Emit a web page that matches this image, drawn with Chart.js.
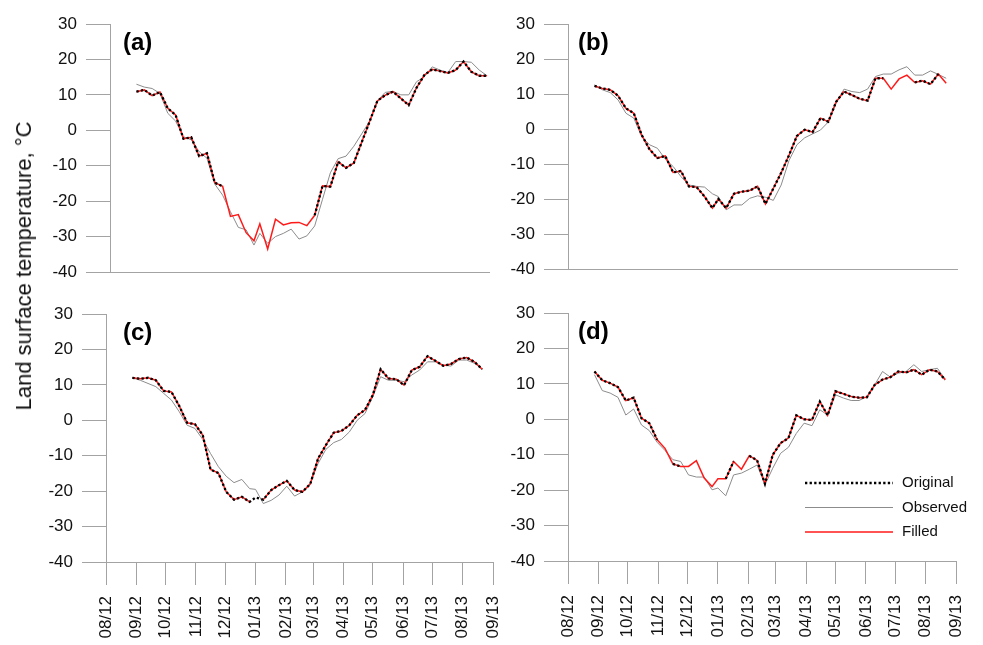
<!DOCTYPE html>
<html><head><meta charset="utf-8">
<script src="https://cdn.jsdelivr.net/npm/chart.js@4.4.1/dist/chart.umd.min.js"></script>
<style>
html,body{margin:0;padding:0;background:#fff;}
#wrap{position:relative;width:983px;height:645px;overflow:hidden;background:#fff;}
canvas{position:absolute;}
#ytitle{position:absolute;left:24px;top:265.5px;transform:translate(-50%,-50%) rotate(-90deg);font-family:'Liberation Sans',Arial,sans-serif;font-size:22px;line-height:22px;white-space:nowrap;color:#111;}
</style></head><body>
<div id="wrap">
<canvas id="ca" width="500" height="300" style="left:0;top:0"></canvas>
<canvas id="cb" width="480" height="300" style="left:490px;top:0"></canvas>
<canvas id="cc" width="520" height="355" style="left:0;top:290px"></canvas>
<canvas id="cd" width="503" height="355" style="left:480px;top:290px"></canvas>
<div id="ytitle">Land surface temperature, °C</div>
</div>
<script>
// 8-day composite dates
const compositeDates = ["2012-08-28","2012-09-05","2012-09-13","2012-09-21","2012-09-29","2012-10-07","2012-10-15","2012-10-23","2012-10-31","2012-11-08","2012-11-16","2012-11-24","2012-12-02","2012-12-10","2012-12-18","2012-12-26",
"2013-01-01","2013-01-09","2013-01-17","2013-01-25","2013-02-02","2013-02-10","2013-02-18","2013-02-26","2013-03-06","2013-03-14","2013-03-22","2013-03-30","2013-04-07","2013-04-15","2013-04-23","2013-05-01","2013-05-09","2013-05-17","2013-05-25","2013-06-02","2013-06-10","2013-06-18","2013-06-26","2013-07-04","2013-07-12","2013-07-20","2013-07-28","2013-08-05","2013-08-13","2013-08-21"];
const monthTickDates = ["2012-08-01","2012-09-01","2012-10-01","2012-11-01","2012-12-01","2013-01-01","2013-02-01","2013-03-01","2013-04-01","2013-05-01","2013-06-01","2013-07-01","2013-08-01","2013-09-01"];
const monthTickLabels = ["08/12","09/12","10/12","11/12","12/12","01/13","02/13","03/13","04/13","05/13","06/13","07/13","08/13","09/13"];
const yTicks = [-40,-30,-20,-10,0,10,20,30];
const panelLabels = ["(a)","(b)","(c)","(d)"];
const seriesNames = ["Original","Observed","Filled"];

const aOriginal = [10.9,11.4,9.8,10.8,6.2,4.3,-2.4,-2.0,-7.3,-6.5,-14.8,-15.8,null,null,null,null,null,null,null,null,null,null,null,-24.0,-15.7,-15.9,-8.9,-10.6,-9.2,-3.4,2.4,8.3,9.9,10.9,9.0,7.1,12.0,15.6,17.2,16.7,16.2,17.0,19.4,16.5,15.4,15.4];
const aObserved = [13.0,12.2,11.8,10.4,4.8,2.6,-1.8,-2.7,-6.0,-7.9,-15.2,-18.3,-23.0,-27.4,-28.1,-32.4,-29.1,-31.9,-30.0,-29.1,-27.9,-30.7,-29.8,-27.0,-19.5,-12.0,-8.0,-7.3,-4.5,-1.0,2.5,8.3,10.7,11.0,10.0,10.0,13.7,15.1,17.9,17.0,16.3,19.4,19.4,19.2,17.0,15.4];
const aFilled = [10.9,11.4,9.8,10.8,6.2,4.3,-2.4,-2.0,-7.3,-6.5,-14.8,-15.8,-24.3,-23.8,-28.9,-31.2,-26.4,-33.5,-25.1,-26.7,-26.1,-26.0,-26.9,-24.0,-15.7,-15.9,-8.9,-10.6,-9.2,-3.4,2.4,8.3,9.9,10.9,9.0,7.1,12.0,15.6,17.2,16.7,16.2,17.0,19.4,16.5,15.4,15.4];

const bOriginal = [12.3,11.6,11.2,9.5,5.9,4.5,-1.7,-5.8,-8.3,-7.7,-12.4,-12.0,-16.4,-16.6,-19.3,-22.6,-20.0,-22.6,-18.5,-17.9,-17.6,-16.4,-21.4,-17.0,-12.5,-7.5,-2.0,-0.2,-0.9,3.1,2.1,7.8,10.7,9.7,8.6,8.1,14.5,14.5,null,null,null,13.3,13.8,12.8,15.7,null];
const bObserved = [12.6,11.2,10.4,8.3,4.5,3.1,-2.2,-4.5,-5.5,-8.6,-10.7,-13.6,-16.0,-16.4,-16.6,-18.5,-19.3,-23.1,-21.7,-21.7,-19.8,-19.1,-19.5,-20.4,-16.0,-9.0,-4.5,-2.5,-1.4,-0.3,2.0,7.4,11.4,10.7,10.4,11.4,15.0,15.7,15.7,16.9,17.8,15.4,15.4,16.6,15.6,14.5];
const bFilled = [12.3,11.6,11.2,9.5,5.9,4.5,-1.7,-5.8,-8.3,-7.7,-12.4,-12.0,-16.4,-16.6,-19.3,-22.6,-20.0,-22.6,-18.5,-17.9,-17.6,-16.4,-21.4,-17.0,-12.5,-7.5,-2.0,-0.2,-0.9,3.1,2.1,7.8,10.7,9.7,8.6,8.1,14.5,14.5,11.4,14.3,15.4,13.3,13.8,12.8,15.7,13.1];

const cOriginal = [12.0,11.7,12.0,11.3,8.3,8.0,4.0,-0.7,-1.1,-4.2,-13.9,-14.9,-20.2,-22.4,-21.6,-23.0,-21.8,-22.4,-19.7,-18.3,-17.1,-19.7,-20.2,-18.0,-10.8,-7.0,-3.5,-3.0,-1.4,1.4,2.9,7.1,14.4,11.8,11.6,9.9,14.2,15.1,18.1,16.8,15.4,15.9,17.3,17.7,16.5,14.4];
const cObserved = [12.0,11.3,10.4,9.5,7.6,5.7,2.4,-1.4,-2.3,-5.4,-9.4,-13.1,-15.8,-17.6,-16.7,-19.3,-19.5,-23.5,-22.6,-21.1,-18.6,-21.4,-20.2,-17.8,-12.2,-8.2,-6.3,-5.4,-3.3,0.0,1.9,6.6,12.3,11.3,11.3,10.9,12.8,14.2,16.5,16.5,15.6,15.3,17.0,17.0,16.1,14.4];
const cFilled = [12.0,11.7,12.0,11.3,8.3,8.0,4.0,-0.7,-1.1,-4.2,-13.9,-14.9,-20.2,-22.4,-21.6,-23.0,null,-22.4,-19.7,-18.3,-17.1,-19.7,-20.2,-18.0,-10.8,-7.0,-3.5,-3.0,-1.4,1.4,2.9,7.1,14.4,11.8,11.6,9.9,14.2,15.1,18.1,16.8,15.4,15.9,17.3,17.7,16.5,14.4];

const dOriginal = [13.5,11.0,10.2,9.1,5.3,6.1,0.3,-1.1,-5.8,null,-12.6,-13.3,null,null,null,null,null,-16.8,-11.9,null,-10.3,-11.6,-18.2,-10.0,-6.7,-5.3,1.1,0.0,-0.2,5.0,1.1,7.9,7.2,6.4,6.1,6.2,9.7,11.2,11.9,13.5,13.2,14.0,12.6,14.0,13.5,11.2];
const dObserved = [12.6,8.1,7.4,6.2,1.2,2.9,-1.6,-3.2,-6.5,-8.8,-11.4,-11.9,-15.7,-16.3,-16.3,-19.9,-19.4,-21.6,-15.7,-15.2,-14.1,-12.9,-18.5,-13.8,-9.6,-7.9,-4.0,-1.1,-1.8,2.7,1.2,6.9,6.0,5.3,5.3,6.4,9.7,13.5,11.9,13.0,13.5,15.4,13.5,14.0,14.4,11.3];
const dFilled = [13.5,11.0,10.2,9.1,5.3,6.1,0.3,-1.1,-5.8,-8.2,-12.6,-13.3,-13.3,-11.7,-16.6,-19.0,-16.8,-16.8,-11.9,-14.1,-10.3,-11.6,-18.2,-10.0,-6.7,-5.3,1.1,0.0,-0.2,5.0,1.1,7.9,7.2,6.4,6.1,6.2,9.7,11.2,11.9,13.5,13.2,14.0,12.6,14.0,13.5,11.2];

// ---- helpers ----
const FONT = "'Liberation Sans', Arial, Helvetica, sans-serif";
const AXIS = '#a3a3a3';
const TXT = '#111';
const origin = Date.UTC(2012, 7, 1);
const dayOf = s => { const p = s.split('-').map(Number); return (Date.UTC(p[0], p[1]-1, p[2]) - origin) / 86400000; };
const xDays = compositeDates.map(dayOf);
const tickDays = monthTickDates.map(dayOf);
const labelByDay = {};
tickDays.forEach((d, i) => { labelByDay[d] = monthTickLabels[i]; });

Chart.defaults.font.family = FONT;
Chart.defaults.font.size = 17;
Chart.defaults.color = TXT;

const styles = {
  Original: { borderColor: '#000', borderWidth: 2.3, borderDash: [2.3, 2.3] },
  Observed: { borderColor: '#8c8c8c', borderWidth: 1 },
  Filled:   { borderColor: '#ff1a1a', borderWidth: 1.5 }
};

const panelLabelPlugin = {
  id: 'panelLabel',
  afterDraw(chart, args, opts) {
    const { ctx, chartArea } = chart;
    ctx.save();
    ctx.font = 'bold 24px ' + FONT;
    ctx.fillStyle = '#000';
    ctx.textBaseline = 'middle';
    ctx.textAlign = 'left';
    ctx.fillText(opts.text, chartArea.left + opts.dx, chartArea.top + opts.dy);
    ctx.restore();
  }
};

const innerLegendPlugin = {
  id: 'innerLegend',
  afterDraw(chart, args, opts) {
    if (!opts || !opts.show) return;
    const { ctx, chartArea } = chart;
    ctx.save();
    ctx.font = '15px ' + FONT;
    ctx.textBaseline = 'middle';
    ctx.textAlign = 'left';
    seriesNames.forEach((name, i) => {
      const st = styles[name];
      const y = chartArea.top + opts.dy + i * opts.gap;
      const x1 = chartArea.left + opts.dx;
      ctx.beginPath();
      ctx.strokeStyle = st.borderColor;
      ctx.lineWidth = st.borderWidth;
      ctx.setLineDash(st.borderDash || []);
      ctx.moveTo(x1, y);
      ctx.lineTo(x1 + opts.len, y);
      ctx.stroke();
      ctx.setLineDash([]);
      ctx.fillStyle = TXT;
      ctx.fillText(name, x1 + opts.len + 9, y);
    });
    ctx.restore();
  }
};

function makePanel(cfg) {
  const series = { Original: cfg.orig, Filled: cfg.fill, Observed: cfg.obs };
  const drawOrder = ['Original', 'Filled', 'Observed']; // first drawn on top
  const datasets = drawOrder.map(name => Object.assign({
    label: name,
    data: xDays.map((x, i) => ({ x: x, y: series[name][i] })),
    pointRadius: 0,
    tension: 0,
    fill: false,
    spanGaps: false
  }, styles[name]));

  new Chart(document.getElementById(cfg.id), {
    type: 'line',
    data: { datasets },
    plugins: [panelLabelPlugin, innerLegendPlugin],
    options: {
      responsive: false,
      animation: false,
      events: [],
      layout: { padding: cfg.padding },
      plugins: {
        legend: { display: false },
        tooltip: { enabled: false },
        panelLabel: { text: cfg.label, dx: cfg.labelDx, dy: 19 },
        innerLegend: cfg.legend || { show: false }
      },
      scales: {
        x: {
          type: 'linear',
          min: 0,
          max: cfg.xMax,
          afterBuildTicks: s => { s.ticks = tickDays.filter(d => d <= cfg.xMax).map(v => ({ value: v })); },
          afterFit: s => { s.height = cfg.xHeight; s.paddingLeft = 0; s.paddingRight = 0; },
          grid: { display: cfg.showX, drawOnChartArea: false, drawTicks: cfg.showX, tickLength: 23, color: AXIS, lineWidth: 1 },
          border: { display: true, color: AXIS, width: 1 },
          ticks: {
            display: cfg.showX,
            autoSkip: false,
            minRotation: 90,
            maxRotation: 90,
            padding: 11,
            color: TXT,
            font: { size: 17 },
            callback: v => labelByDay[v] !== undefined ? labelByDay[v] : ''
          }
        },
        y: {
          type: 'linear',
          min: -40,
          max: 30,
          afterBuildTicks: s => { s.ticks = yTicks.map(v => ({ value: v })); },
          afterFit: s => { s.width = cfg.yWidth; s.paddingTop = 0; s.paddingBottom = 0; },
          grid: { drawOnChartArea: false, drawTicks: true, tickLength: 24, color: AXIS, lineWidth: 1 },
          border: { display: true, color: AXIS, width: 1 },
          ticks: { padding: 9, color: TXT, font: { size: 17 } }
        }
      }
    }
  });
}

makePanel({ id: 'ca', orig: aOriginal, obs: aObserved, fill: aFilled, label: panelLabels[0], labelDx: 13,
  xMax: 387, yWidth: 110, xHeight: 0, showX: false, padding: { left: 0, top: 24, right: 11, bottom: 28 } });
makePanel({ id: 'cb', orig: bOriginal, obs: bObserved, fill: bFilled, label: panelLabels[1], labelDx: 10,
  xMax: 396, yWidth: 78, xHeight: 0, showX: false, padding: { left: 0, top: 24, right: 13, bottom: 31 } });
makePanel({ id: 'cc', orig: cOriginal, obs: cObserved, fill: cFilled, label: panelLabels[2], labelDx: 17,
  xMax: 396, yWidth: 106, xHeight: 80, showX: true, padding: { left: 0, top: 24, right: 27, bottom: 3 } });
makePanel({ id: 'cd', orig: dOriginal, obs: dObserved, fill: dFilled, label: panelLabels[3], labelDx: 10,
  xMax: 396, yWidth: 88, xHeight: 80, showX: true, padding: { left: 0, top: 23, right: 27, bottom: 4 },
  legend: { show: true, dx: 237, dy: 170, gap: 24.5, len: 88 } });
</script>
</body></html>
